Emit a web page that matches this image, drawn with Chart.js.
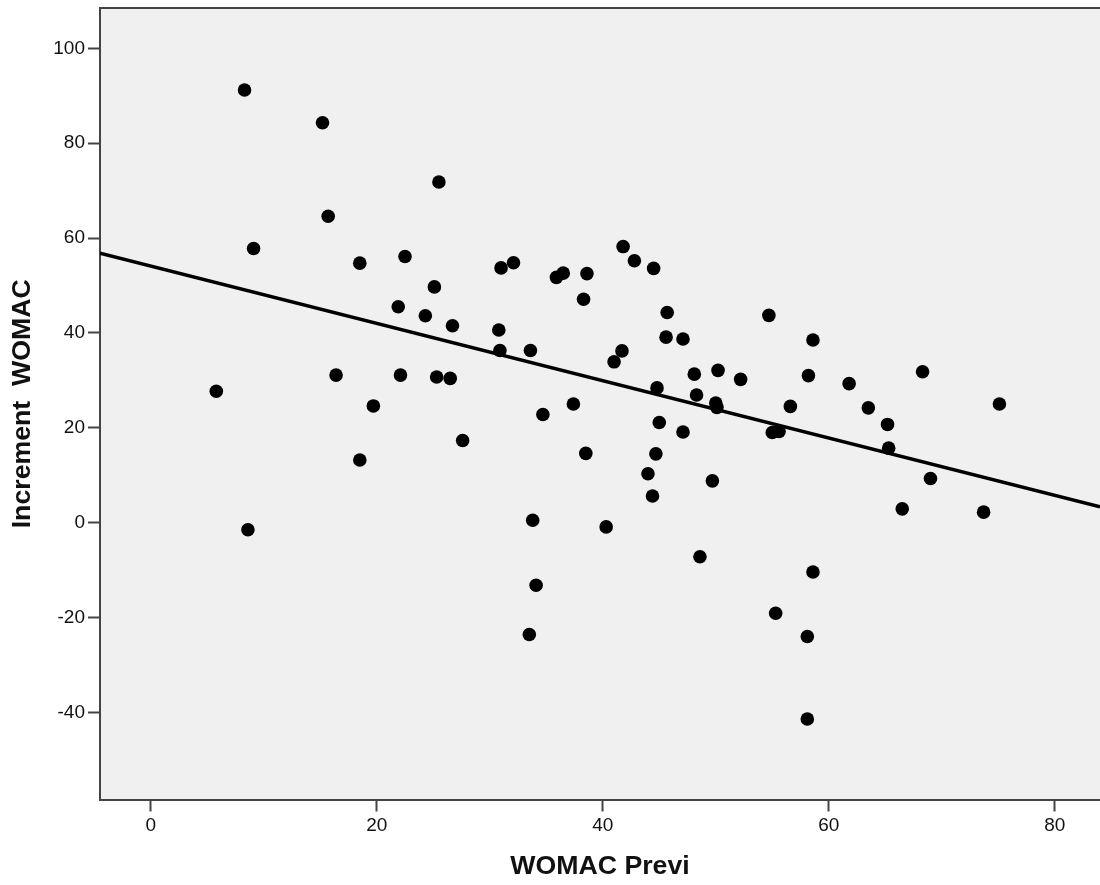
<!DOCTYPE html>
<html>
<head>
<meta charset="utf-8">
<script src="https://cdn.jsdelivr.net/npm/chart.js@4.4.1/dist/chart.umd.min.js"></script>
<style>
  html, body { margin: 0; padding: 0; background: #ffffff; }
  canvas { display: block; }
</style>
</head>
<body>
<canvas id="chart" width="1100" height="885"></canvas>
<script>
// WOMAC score before treatment (x) and its increment (y), one entry per patient
const womacPrevi = [
  8.3, 15.2, 25.5, 15.7, 9.1, 18.5, 22.5, 25.1, 21.9, 24.3,
  26.7, 5.8, 8.6, 16.4, 19.7, 18.5, 22.1, 25.3, 26.5, 27.6,
  31.0, 32.1, 35.9, 36.5, 38.6, 38.3, 41.8, 42.8, 44.5, 45.7,
  45.6, 47.1, 30.8, 30.9, 33.6, 41.7, 41.0, 48.1, 50.2, 52.2,
  44.8, 48.3, 50.0, 50.1, 37.4, 34.7, 38.5, 45.0, 47.1, 44.7,
  44.0, 49.7, 44.4, 33.8, 40.3, 34.1, 33.5, 48.6, 54.7, 58.6,
  58.2, 61.8, 56.6, 55.0, 55.6, 63.5, 65.2, 65.3, 68.3, 75.1,
  69.0, 66.5, 73.7, 58.6, 55.3, 58.1, 58.1
];
const incrementWomac = [
  91.2, 84.3, 71.8, 64.6, 57.8, 54.7, 56.1, 49.7, 45.5, 43.6,
  41.5, 27.7, -1.5, 31.1, 24.6, 13.2, 31.1, 30.7, 30.4, 17.3,
  53.7, 54.8, 51.7, 52.6, 52.5, 47.1, 58.2, 55.2, 53.6, 44.3,
  39.1, 38.7, 40.6, 36.3, 36.3, 36.2, 33.9, 31.3, 32.1, 30.2,
  28.4, 26.9, 25.2, 24.3, 25.0, 22.8, 14.6, 21.1, 19.1, 14.5,
  10.3, 8.8, 5.6, 0.5, -0.9, -13.2, -23.6, -7.2, 43.7, 38.5,
  31.0, 29.3, 24.5, 19.0, 19.2, 24.2, 20.7, 15.7, 31.8, 25.0,
  9.3, 2.9, 2.2, -10.4, -19.1, -24.0, -41.4
];

// Axis tick values and visible ranges
const xTickValues = [0, 20, 40, 60, 80];
const yTickValues = [-40, -20, 0, 20, 40, 60, 80, 100];
const xRange = [-4.49, 84.0];
const yRange = [-58.38, 108.5];

// Least-squares fit line: increment = intercept + slope * previ
const fitIntercept = 54.07;
const fitSlope = -0.604;

const FONT = "'Liberation Sans', Arial, sans-serif";
const AXIS_COLOR = '#444444';

const points = womacPrevi.map((x, i) => ({ x: x, y: incrementWomac[i] }));
const fitLine = xRange.map(x => ({ x: x, y: fitIntercept + fitSlope * x }));

// Grey plot background and the top frame line
const plotFrame = {
  id: 'plotFrame',
  beforeDraw(chart) {
    const { ctx, chartArea: a } = chart;
    ctx.save();
    ctx.fillStyle = '#f0f0f0';
    ctx.fillRect(a.left, a.top, a.right - a.left, a.bottom - a.top);
    ctx.restore();
  },
  afterDraw(chart) {
    const { ctx, chartArea: a } = chart;
    ctx.save();
    ctx.strokeStyle = AXIS_COLOR;
    ctx.lineWidth = 2;
    ctx.beginPath();
    ctx.moveTo(a.left - 1, a.top);
    ctx.lineTo(a.right, a.top);
    ctx.stroke();
    ctx.restore();
  }
};

new Chart(document.getElementById('chart'), {
  type: 'scatter',
  data: {
    datasets: [
      {
        type: 'line',
        data: fitLine,
        borderColor: '#000000',
        borderWidth: 3.5,
        pointRadius: 0,
        fill: false,
        tension: 0,
        order: 2
      },
      {
        type: 'scatter',
        data: points,
        backgroundColor: '#000000',
        borderWidth: 0,
        pointRadius: 6.8,
        pointHoverRadius: 6.8,
        order: 1
      }
    ]
  },
  options: {
    responsive: false,
    devicePixelRatio: 1,
    animation: false,
    events: [],
    layout: { autoPadding: false, padding: { top: 8, left: 0, right: 0, bottom: 0 } },
    plugins: {
      legend: { display: false },
      tooltip: { enabled: false }
    },
    scales: {
      x: {
        type: 'linear',
        position: 'bottom',
        min: xRange[0],
        max: xRange[1],
        afterBuildTicks(scale) { scale.ticks = xTickValues.map(v => ({ value: v })); },
        afterFit(scale) { scale.height = 85.5; scale.paddingLeft = 0; scale.paddingRight = 0; },
        border: { display: true, color: AXIS_COLOR, width: 2 },
        grid: { display: true, drawOnChartArea: false, drawTicks: true, tickLength: 12, tickWidth: 2, tickColor: AXIS_COLOR },
        ticks: {
          padding: 3,
          color: '#111111',
          font: { family: FONT, size: 19 },
          maxRotation: 0,
          callback: v => String(v)
        },
        title: {
          display: true,
          text: 'WOMAC Previ',
          color: '#111111',
          font: { family: FONT, size: 26.7, weight: 'bold', lineHeight: 1.2 },
          padding: { top: 0, bottom: 2 }
        }
      },
      y: {
        type: 'linear',
        position: 'left',
        min: yRange[0],
        max: yRange[1],
        afterBuildTicks(scale) { scale.ticks = yTickValues.map(v => ({ value: v })); },
        afterFit(scale) { scale.width = 100; scale.paddingTop = 0; scale.paddingBottom = 0; },
        border: { display: true, color: AXIS_COLOR, width: 2 },
        grid: { display: true, drawOnChartArea: false, drawTicks: true, tickLength: 12, tickWidth: 2, tickColor: AXIS_COLOR },
        ticks: {
          padding: 3,
          color: '#111111',
          font: { family: FONT, size: 19 },
          callback: v => String(v)
        },
        title: {
          display: true,
          text: 'Increment  WOMAC',
          color: '#111111',
          font: { family: FONT, size: 26.7, weight: 'bold', lineHeight: 1.2 },
          padding: { top: 7, bottom: 0 }
        }
      }
    }
  },
  plugins: [plotFrame]
});
</script>
</body>
</html>
